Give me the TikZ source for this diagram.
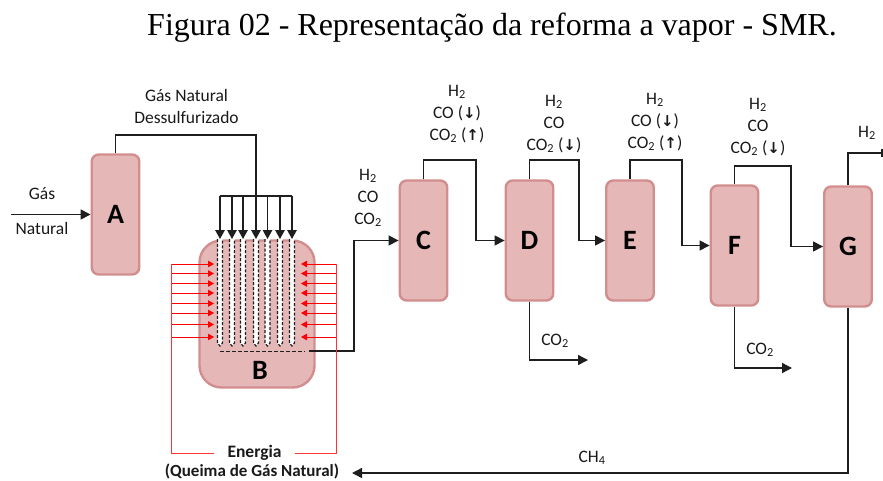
\documentclass[tikz,border=0pt]{standalone}
\usepackage{fontspec}
\setmainfont{Carlito}
\newfontfamily\titlefont{Liberation Serif}
\newfontfamily\arrowfont{DejaVu Sans}
\usetikzlibrary{arrows.meta,calc}
\newcommand{\dn}{{\arrowfont\bfseries\fontsize{15}{15}\selectfont↓}}
\newcommand{\up}{{\arrowfont\bfseries\fontsize{15}{15}\selectfont↑}}
\newcommand{\coii}{CO\textsubscript{2}}
\newcommand{\hii}{H\textsubscript{2}}
\definecolor{vfill}{HTML}{E6B7B7}
\definecolor{vborder}{HTML}{D28E8E}
\definecolor{ink}{HTML}{1E1E1E}
\tikzset{
  vessel/.style={draw=vborder,fill=vfill,line width=2.4pt,rounded corners=7pt,minimum width=47.5pt,inner sep=0pt,font=\fontsize{28}{28}\selectfont\bfseries},
  flow/.style={draw=ink,line width=1.4pt,-{Triangle[length=10pt,width=10pt]}},
  plain/.style={draw=ink,line width=1.4pt},
  heat/.style={draw=red,line width=1pt,-{Triangle[length=6pt,width=6.5pt]}},
  redline/.style={draw=red!80,line width=1pt},
  lbl/.style={font=\fontsize{17.5}{22}\selectfont,align=center,inner sep=0pt,text=black!90}
}
\begin{document}
\begin{tikzpicture}[x=1pt,y=-1pt]
\useasboundingbox (0,0) rectangle (883,481);
\node[inner sep=0pt,font=\titlefont\fontsize{32}{32}\selectfont] (title) at (492,28) {Figura 02 - Representação da reforma a vapor - SMR.};
% vessels
\node[vessel,minimum height=120pt] (A) at (115.5,214.5) {A};
\node[vessel,minimum width=115pt,minimum height=147pt,rounded corners=22pt] (B) at (257,314) {};
\node[inner sep=0pt,font=\fontsize{28}{28}\selectfont\bfseries] (Bl) at (260,370) {B};
\node[vessel,minimum height=120pt] (C) at (423.5,240.5) {C};
\node[vessel,minimum height=120pt] (D) at (529.5,240.5) {D};
\node[vessel,minimum height=120pt] (E) at (630,240.5) {E};
\node[vessel,minimum height=120pt] (F) at (734.5,245.5) {F};
\node[vessel,minimum height=120pt] (G) at (848,246.5) {G};
% tubes
\foreach \n/\x in {1/220,2/232,3/243,4/256,5/267.5,6/280,7/292}{
  \coordinate (top\n) at (\x,196);
  \coordinate (tip\n) at (\x,239);
  \coordinate (end\n) at (\x,346);
  \fill[white] (\x-2.5,239) -- (\x-2.5,343) -- (end\n) -- (\x+2.5,343) -- (\x+2.5,239) -- cycle;
  \draw[ink,line width=1.2pt,dash pattern=on 3pt off 1.8pt] (\x-2.5,239) -- (\x-2.5,343) -- (end\n) -- (\x+2.5,343) -- (\x+2.5,239);
  \draw[flow,-{Triangle[length=9pt,width=9.5pt]}] (top\n) -- (tip\n);
}
\draw[plain] (top1) -- (top7);
\coordinate (dashL) at (220,351);
\coordinate (dashR) at (305,351);
\draw[ink,line width=0.9pt,dash pattern=on 4pt off 2pt] (dashL) -- (dashR);
% labels
\node[lbl] (feed1) at (186.5,95) {Gás Natural};
\node[lbl] (feed2) at (186.5,117) {Dessulfurizado};
\node[lbl] (gas1) at (42,194) {Gás};
\node[lbl] (gas2) at (42,228) {Natural};
\node[lbl] (l1) at (368,198) {\hii\\CO\\\coii};
\node[lbl] (l2) at (457,114) {\hii\\CO (\dn)\\\coii{} (\up)};
\node[lbl] (l3) at (554,124) {\hii\\CO\\\coii{} (\dn)};
\node[lbl] (l4) at (655,122) {\hii\\CO (\dn)\\\coii{} (\up)};
\node[lbl] (l5) at (758,127) {\hii\\CO\\\coii{} (\dn)};
\node[lbl] (l6) at (867,133) {\hii};
\node[lbl] (l7) at (555,341) {\coii};
\node[lbl] (l8) at (760,350) {\coii};
\node[lbl] (l9) at (592,458) {CH\textsubscript{4}};
\node[lbl,font=\fontsize{17.5}{22}\selectfont\bfseries,minimum width=81pt] (en1) at (254.5,453) {Energia};
\node[lbl,font=\fontsize{17}{20}\selectfont\bfseries] (en2) at (252,471.5) {(Queima de Gás Natural)};
% connectors
\coordinate (inS) at (11,214.5);
\draw[flow] (inS) -- (A.west);
\draw[plain] (A.north) |- (256,135) -- (top4);
\coordinate (bOut) at (309,351);
\draw[flow] (bOut) -- (354,351) |- (C.west);
\draw[flow] (C.north) |- (476,160) |- (D.west);
\draw[flow] (D.north) |- (579,160) |- (E.west);
\draw[flow] (E.north) |- (682,160) |- (F.west);
\draw[flow] (F.north) |- (791,166) |- (G.west);
\coordinate (h2end) at (882,153);
\draw[plain] (G.north) |- (h2end);
\draw[ink,line width=1.4pt] (882,149) -- (882,157);
\coordinate (co2a) at (588,360);
\coordinate (co2b) at (792,368);
\coordinate (ch4end) at (352,473);
\draw[flow] (D.south) |- (co2a);
\draw[flow] (F.south) |- (co2b);
\draw[flow] (G.south) |- (ch4end);
% heat
\foreach \y in {264,273.5,283.5,293,303.5,313,324.5,337}{
  \draw[heat] (171,\y) -- (214,\y);
  \draw[heat] (336,\y) -- (301,\y);
}
\draw[redline] (en1.west) -- (171,453) -- (171,264);
\draw[redline] (en1.east) -- (336,453) -- (336,264);
\end{tikzpicture}
\end{document}
